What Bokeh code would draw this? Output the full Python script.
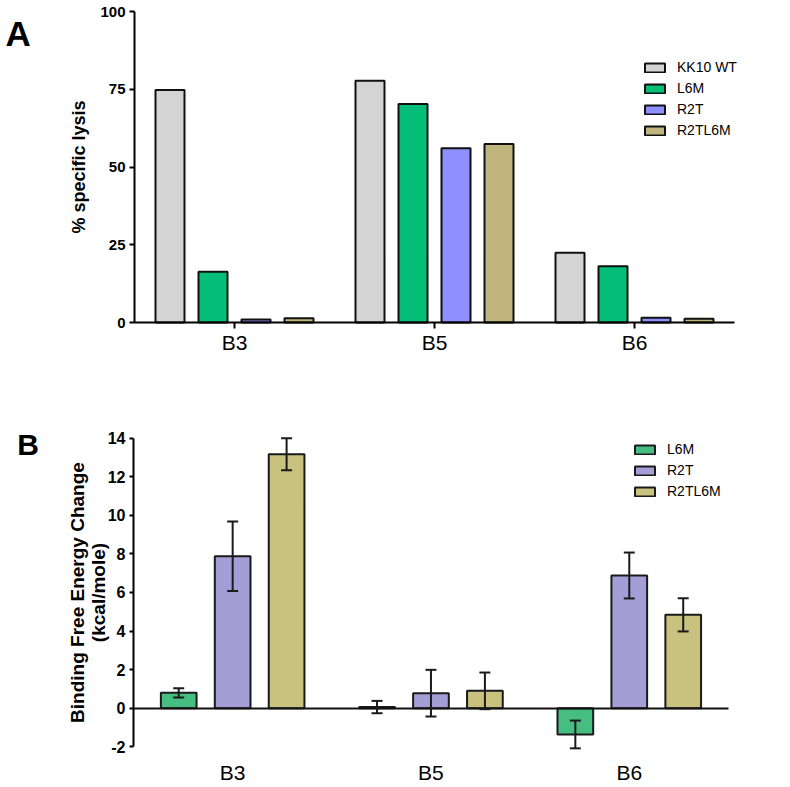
from bokeh.plotting import figure
from bokeh.models import (ColumnDataSource, Whisker, FixedTicker, Label, LinearAxis,
                          Range1d)
from bokeh.layouts import column
from bokeh.embed import file_html
from bokeh.resources import INLINE

# ---------------- data ----------------
categories = ["B3", "B5", "B6"]

# Panel A: % specific lysis
series_a = ["KK10 WT", "L6M", "R2T", "R2TL6M"]
lysis_kk10_wt = [74.8, 77.7, 22.4]
lysis_l6m = [16.3, 70.3, 18.1]
lysis_r2t = [1.0, 56.0, 1.5]
lysis_r2tl6m = [1.4, 57.4, 1.2]
ticks_a = [0, 25, 50, 75, 100]

# Panel B: binding free energy change (kcal/mole) with error
series_b = ["L6M", "R2T", "R2TL6M"]
dg_l6m = [0.80, 0.06, -1.36]
dg_l6m_err = [0.24, 0.32, 0.72]
dg_r2t = [7.88, 0.78, 6.88]
dg_r2t_err = [1.80, 1.21, 1.19]
dg_r2tl6m = [13.17, 0.90, 4.84]
dg_r2tl6m_err = [0.83, 0.95, 0.86]
ticks_b = [-2, 0, 2, 4, 6, 8, 10, 12, 14]

colors_a = ["#d4d4d4", "#05bf79", "#8f8fff", "#c0b57c"]
colors_b = ["#46be81", "#a49dd6", "#c8c27e"]

FONT = "Liberation Sans"

cat_pos = [i + 0.5 for i in range(len(categories))]
cat_labels = {p: c for p, c in zip(cat_pos, categories)}


def shifted(off):
    return [c + off for c in cat_pos]


def up(v, e):
    return [a + b for a, b in zip(v, e)]


def lo(v, e):
    return [a - b for a, b in zip(v, e)]


def base_fig(xr, yr, h):
    p = figure(x_range=xr, y_range=yr, width=790, height=h,
               output_backend="svg", toolbar_location=None,
               x_axis_location=None, y_axis_location=None,
               min_border=0, min_border_left=0, min_border_right=0,
               min_border_top=0, min_border_bottom=0)
    p.grid.visible = False
    p.outline_line_color = None
    return p


def style_yaxis(ax, size):
    ax.axis_line_width = 2
    ax.axis_line_color = "black"
    ax.major_tick_line_width = 2
    ax.major_tick_line_color = "black"
    ax.major_tick_in = 0
    ax.minor_tick_line_color = None
    ax.major_label_text_font = FONT
    ax.major_label_text_font_style = "bold"
    ax.major_label_text_font_size = size
    ax.major_label_text_color = "black"
    ax.axis_label_text_font = FONT
    ax.axis_label_text_font_style = "bold"
    ax.axis_label_text_color = "black"


def style_legend(lg, x, y):
    lg.location = (x, y)
    lg.border_line_color = None
    lg.background_fill_alpha = 0
    lg.padding = 0
    lg.margin = 0
    lg.spacing = 5
    lg.label_height = 16
    lg.glyph_height = 11
    lg.glyph_width = 25
    lg.label_standoff = 10
    lg.label_text_font = FONT
    lg.label_text_font_size = "14px"
    lg.label_text_color = "black"


# ---------------- panel A ----------------
pA = base_fig(Range1d(-0.67, 3.28), Range1d(-21.86, 103.54), 390)

vals_a = [lysis_kk10_wt, lysis_l6m, lysis_r2t, lysis_r2tl6m]
offs_a = [-0.3225, -0.1075, 0.1075, 0.3225]
for vals, off, colr, name in zip(vals_a, offs_a, colors_a, series_a):
    src = ColumnDataSource(dict(x=shifted(off), top=vals))
    pA.vbar(x="x", top="top", bottom=0, width=0.145, source=src,
            fill_color=colr, line_color="#111111", line_width=2, legend_label=name)

ya = LinearAxis(fixed_location=0, bounds=(0, 100), ticker=FixedTicker(ticks=ticks_a),
                axis_label="% specific lysis")
style_yaxis(ya, "15px")
ya.major_tick_out = 5
ya.major_label_standoff = 4
ya.axis_label_text_font_size = "18px"
ya.axis_label_standoff = 8
pA.add_layout(ya, "left")

xa = LinearAxis(fixed_location=0, bounds=(0, 3), ticker=FixedTicker(ticks=cat_pos),
                major_label_overrides=cat_labels)
xa.axis_line_width = 2
xa.axis_line_color = "black"
xa.major_tick_line_width = 2
xa.major_tick_line_color = "black"
xa.major_tick_in = 0
xa.major_tick_out = 6
xa.minor_tick_line_color = None
xa.major_label_standoff = 2
xa.major_label_text_font = FONT
xa.major_label_text_font_size = "21px"
xa.major_label_text_color = "black"
pA.add_layout(xa, "below")

style_legend(pA.legend[0], 642, 252)

pA.add_layout(Label(x=-0.645, y=92.8, text="A", text_font=FONT, text_font_style="bold",
                    text_font_size="35px", text_align="left", text_baseline="middle",
                    text_color="black"))

# ---------------- panel B ----------------
pB = base_fig(Range1d(-0.6707, 3.313), Range1d(-4.11, 16.47), 397)

vals_b = [dg_l6m, dg_r2t, dg_r2tl6m]
errs_b = [dg_l6m_err, dg_r2t_err, dg_r2tl6m_err]
offs_b = [-0.272, 0.0, 0.272]

zero_ax = LinearAxis(fixed_location=0, bounds=(0, 3), ticker=FixedTicker(ticks=[]))
zero_ax.axis_line_width = 2
zero_ax.axis_line_color = "#111111"
zero_ax.major_tick_line_color = None
zero_ax.minor_tick_line_color = None
zero_ax.major_label_text_font_size = "0px"
pB.add_layout(zero_ax, "below")

for vals, errs, off, colr, name in zip(vals_b, errs_b, offs_b, colors_b, series_b):
    src = ColumnDataSource(dict(x=shifted(off), top=vals, upper=up(vals, errs),
                                lower=lo(vals, errs)))
    pB.vbar(x="x", top="top", bottom=0, width=0.18, source=src,
            fill_color=colr, line_color="#1a1a1a", line_width=2, legend_label=name)
    w = Whisker(base="x", upper="upper", lower="lower", source=src,
                line_color="#1a1a1a", line_width=2, level="annotation")
    for head in (w.upper_head, w.lower_head):
        head.size = 11
        head.line_width = 2
        head.line_color = "#1a1a1a"
    pB.add_layout(w)

yb = LinearAxis(fixed_location=0, bounds=(-2, 14), ticker=FixedTicker(ticks=ticks_b),
                axis_label="Binding Free Energy Change\n(kcal/mole)",
                major_label_overrides={-2: "-2"})
style_yaxis(yb, "16px")
yb.major_tick_out = 4
yb.major_label_standoff = 4
yb.axis_label_text_font_size = "19px"
yb.axis_label_text_line_height = 1.0
yb.axis_label_standoff = -4
pB.add_layout(yb, "left")

xb = LinearAxis(fixed_location=-2, bounds=(0, 3), ticker=FixedTicker(ticks=cat_pos),
                major_label_overrides=cat_labels)
xb.axis_line_color = None
xb.major_tick_line_color = None
xb.minor_tick_line_color = None
xb.major_label_standoff = 8
xb.major_label_text_font = FONT
xb.major_label_text_font_size = "21px"
xb.major_label_text_color = "black"
pB.add_layout(xb, "below")

style_legend(pB.legend[0], 632, 288)

pB.add_layout(Label(x=-0.5865, y=13.67, text="B", text_font=FONT, text_font_style="bold",
                    text_font_size="30px", text_align="left", text_baseline="middle",
                    text_color="black"))

layout = column(pA, pB)
open("out.html", "w").write(file_html(layout, INLINE))
